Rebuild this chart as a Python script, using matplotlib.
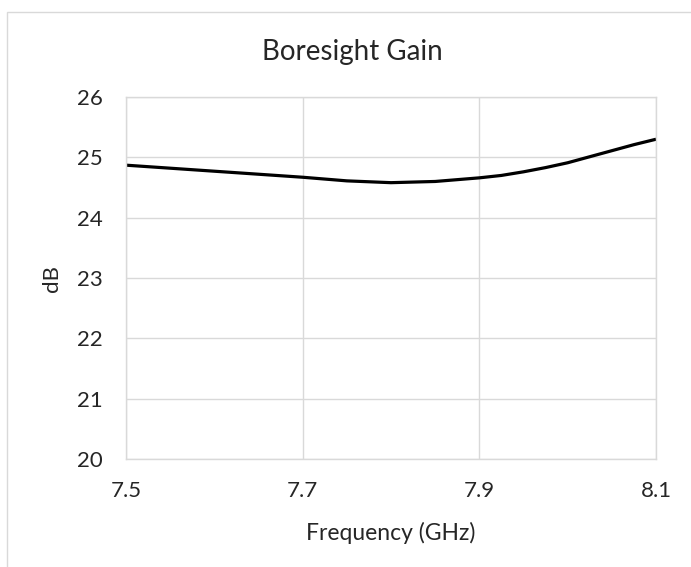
import matplotlib
matplotlib.use("Agg")
import matplotlib.pyplot as plt
from matplotlib.patches import Rectangle

# values
freq_ghz = [7.50, 7.55, 7.60, 7.65, 7.70, 7.75, 7.80, 7.85, 7.90, 7.925, 7.95, 7.975,
            8.00, 8.025, 8.05, 8.075, 8.10]
gain_db = [24.87, 24.82, 24.77, 24.72, 24.67, 24.61, 24.58, 24.60, 24.66, 24.70, 24.76, 24.83,
           24.91, 25.01, 25.11, 25.21, 25.30]
x_ticks = [7.5, 7.7, 7.9, 8.1]
y_ticks = [20, 21, 22, 23, 24, 25, 26]

plt.rcParams['font.family'] = ['Lato', 'DejaVu Sans']
txt = '#262626'
W, H = 691, 567

fig = plt.figure(figsize=(W / 100, H / 100), dpi=100)
ax = fig.add_axes([126 / W, 1 - 459 / H, 530 / W, 362 / H])

# chart-area border, like the spreadsheet frame
fig.patches.append(Rectangle((7 / W, -0.1), 1.2, 1 - 12 / H + 0.1,
                             transform=fig.transFigure, fill=False,
                             edgecolor='#d9d9d9', linewidth=1))

ax.plot(freq_ghz, gain_db, color='black', linewidth=2.3, solid_capstyle='butt')

ax.set_xlim(7.5, 8.1)
ax.set_ylim(20, 26)
ax.set_xticks(x_ticks)
ax.set_xticklabels([f'{v:.1f}' for v in x_ticks])
ax.set_yticks(y_ticks)
ax.grid(True, color='#d9d9d9', linewidth=1)
ax.set_axisbelow(True)
for s in ax.spines.values():
    s.set_color('#d9d9d9')
    s.set_linewidth(1)
ax.tick_params(length=0, labelsize=16, labelcolor=txt)
ax.tick_params(axis='y', pad=17)
ax.tick_params(axis='x', pad=16)

fig.text(352 / W, 1 - 52 / H, 'Boresight Gain', ha='center', va='center',
         fontsize=20, color=txt)
fig.text(391 / W, 1 - 533 / H, 'Frequency (GHz)', ha='center', va='center',
         fontsize=16.5, color=txt)
fig.text(52 / W, 1 - 279 / H, 'dB', ha='center', va='center', rotation=90,
         fontsize=16, color=txt)

fig.savefig('out.png', dpi=100)
